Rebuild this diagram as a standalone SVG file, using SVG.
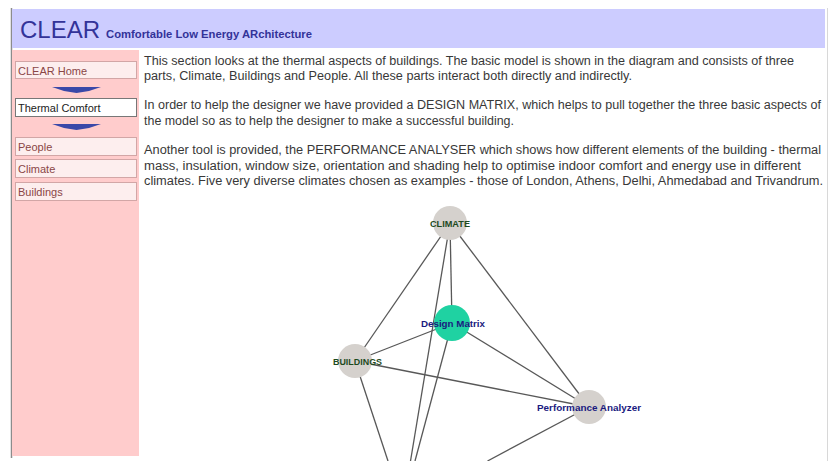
<svg xmlns="http://www.w3.org/2000/svg" width="829" height="461" viewBox="0 0 829 461">
<style>
.body{font-family:"Liberation Sans",Arial,sans-serif;font-size:12px;fill:#383838}
.btn{fill:#fdeeee;stroke:#d2a6a6;stroke-width:1}
.btnsel{fill:#ffffff;stroke:#777;stroke-width:1}
.btxt{font-family:"Liberation Sans",Arial,sans-serif;font-size:11px;fill:#8a4646}
.chev{fill:#3a48a8}
.edge{stroke:#585858;stroke-width:1.3;fill:none}
.gnode{fill:#d5d1cd}
.lblg{font-family:"Liberation Sans",Arial,sans-serif;font-size:9.5px;font-weight:bold;fill:#1d4a1d;text-anchor:middle}
.lblb{font-family:"Liberation Sans",Arial,sans-serif;font-size:9.5px;font-weight:bold;fill:#1a1a80;text-anchor:middle}
</style>
<rect x="0" y="0" width="829" height="461" fill="#ffffff"/>
<!-- frame -->
<line x1="11.5" y1="8" x2="11.5" y2="458" stroke="#8c8c8c" stroke-width="1.5"/>
<line x1="827.5" y1="8" x2="827.5" y2="461" stroke="#d8d8d8" stroke-width="1"/>
<!-- header -->
<g id="header">
<rect x="12" y="9" width="813" height="39" fill="#ccccff"/>
<text x="20" y="38" font-family="'Liberation Sans',Arial,sans-serif" font-size="23" fill="#333399" textLength="80" lengthAdjust="spacingAndGlyphs">CLEAR</text>
<text x="106" y="38" font-family="'Liberation Sans',Arial,sans-serif" font-size="11" font-weight="bold" fill="#333399" textLength="206" lengthAdjust="spacingAndGlyphs">Comfortable Low Energy ARchitecture</text>
</g>
<!-- sidebar -->
<g id="sidebar">
<rect x="12" y="50" width="127" height="406" fill="#ffcccc"/>
<g id="nav-home"><rect class="btn" x="15.5" y="61.5" width="121" height="17"/><text class="btxt" x="18" y="74.5">CLEAR Home</text></g>
<polygon class="chev" points="52,87 101,87 89,91 76.5,93 64,91"/>
<g id="nav-thermal"><rect class="btnsel" x="15.5" y="98.5" width="121" height="18"/><text class="btxt" x="18" y="112" style="fill:#222">Thermal Comfort</text></g>
<polygon class="chev" points="52,124 101,124 89,128 76.5,130 64,128"/>
<g id="nav-people"><rect class="btn" x="15.5" y="137.5" width="121" height="18"/><text class="btxt" x="18" y="151">People</text></g>
<g id="nav-climate"><rect class="btn" x="15.5" y="159.5" width="121" height="18"/><text class="btxt" x="18" y="173">Climate</text></g>
<g id="nav-buildings"><rect class="btn" x="15.5" y="182.5" width="121" height="18"/><text class="btxt" x="18" y="196">Buildings</text></g>
</g>
<!-- body text -->
<g id="text">
<text class="body" x="144" y="65" textLength="650" lengthAdjust="spacingAndGlyphs">This section looks at the thermal aspects of buildings. The basic model is shown in the diagram and consists of three</text>
<text class="body" x="144" y="80" textLength="488" lengthAdjust="spacingAndGlyphs">parts, Climate, Buildings and People. All these parts interact both directly and indirectly.</text>
<text class="body" x="144" y="109" textLength="677" lengthAdjust="spacingAndGlyphs">In order to help the designer we have provided a DESIGN MATRIX, which helps to pull together the three basic aspects of</text>
<text class="body" x="144" y="125" textLength="370" lengthAdjust="spacingAndGlyphs">the model so as to help the designer to make a successful building.</text>
<text class="body" x="144" y="154" textLength="677" lengthAdjust="spacingAndGlyphs">Another tool is provided, the PERFORMANCE ANALYSER which shows how different elements of the building - thermal</text>
<text class="body" x="144" y="170" textLength="657" lengthAdjust="spacingAndGlyphs">mass, insulation, window size, orientation and shading help to optimise indoor comfort and energy use in different</text>
<text class="body" x="144" y="185" textLength="679" lengthAdjust="spacingAndGlyphs">climates. Five very diverse climates chosen as examples - those of London, Athens, Delhi, Ahmedabad and Trivandrum.</text>
</g>
<!-- connectors -->
<g id="connectors">
<line class="edge" x1="450" y1="223" x2="355" y2="361"/>
<line class="edge" x1="450" y1="223" x2="452" y2="323"/>
<line class="edge" x1="450" y1="223" x2="589" y2="407"/>
<line class="edge" x1="450" y1="223" x2="410.5" y2="461"/>
<line class="edge" x1="452" y1="323" x2="355" y2="361"/>
<line class="edge" x1="452" y1="323" x2="589" y2="407"/>
<line class="edge" x1="452" y1="323" x2="415" y2="461"/>
<line class="edge" x1="355" y1="361" x2="589" y2="407"/>
<line class="edge" x1="355" y1="361" x2="388" y2="461"/>
<line class="edge" x1="589" y1="407" x2="487.5" y2="461"/>
</g>
<!-- nodes -->
<g id="node-climate"><circle class="gnode" cx="450" cy="223" r="17"/><text class="lblg" x="450" y="227" textLength="40" lengthAdjust="spacingAndGlyphs">CLIMATE</text></g>
<g id="node-design-matrix"><circle cx="452" cy="323" r="18" fill="#1fd2a2"/><text class="lblb" x="453" y="327" textLength="64" lengthAdjust="spacingAndGlyphs">Design Matrix</text></g>
<g id="node-buildings"><circle class="gnode" cx="355" cy="361" r="17"/><text class="lblg" x="357.5" y="365" textLength="49" lengthAdjust="spacingAndGlyphs">BUILDINGS</text></g>
<g id="node-performance-analyzer"><circle class="gnode" cx="589" cy="407" r="17"/><text class="lblb" x="589" y="411" textLength="104" lengthAdjust="spacingAndGlyphs">Performance Analyzer</text></g>
</svg>
